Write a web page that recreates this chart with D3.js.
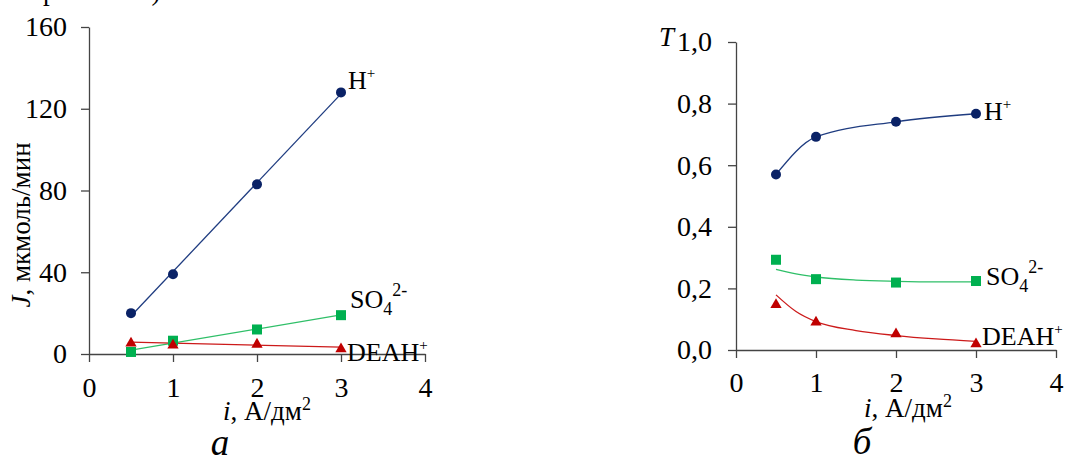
<!DOCTYPE html>
<html>
<head>
<meta charset="utf-8">
<script src="https://cdn.jsdelivr.net/npm/d3@7"></script>
<style>
  body { margin: 0; background: #fff; }
  svg { display: block; font-family: "Liberation Serif", "Times New Roman", serif; }
</style>
</head>
<body>
<svg id="chart" width="1065" height="462"></svg>
<script>
// current density, A/dm2
const currents = [0.5, 1, 2, 3]
// panel a: fluxes J, umol/min
const fluxH = [20, 39, 83, 128]
const fluxSO4 = [1, 6.5, 12, 19]
const fluxDEAH = [5.8, 4.8, 5.2, 2.9]
// panel b: transport numbers T
const transH = [0.57, 0.692, 0.741, 0.767]
const transSO4 = [0.293, 0.23, 0.219, 0.224]
const transDEAH = [0.15, 0.093, 0.055, 0.023]
// trend curves in panel b
const trendX = [0.5, 0.75, 1, 1.5, 2, 2.5, 3]
const trendSO4 = [0.262, 0.247, 0.237, 0.227, 0.223, 0.221, 0.221]
const trendDEAH = [0.179, 0.125, 0.092, 0.063, 0.047, 0.036, 0.028]

const xTicks = [0, 1, 2, 3, 4]
const yTicksA = [0, 40, 80, 120, 160]
const yTicksB = [0, 0.2, 0.4, 0.6, 0.8, 1.0]

const C_H = "#0a2266", L_H = "#1f3c80"
const C_SO4 = "#00b050", L_SO4 = "#2fbf68"
const C_DEAH = "#c00000", L_DEAH = "#cc1a1a"
const AXIS = "#444"

const svg = d3.select("#chart")

// bit of the previous text line, cut at the top
svg.append("text").attr("x", 43).attr("y", 0)
  .style("font-size", "27px").text("рис. 1 и 2)")

function linFit(xs, ys) {
  const mx = d3.mean(xs), my = d3.mean(ys)
  const b = d3.sum(xs, (x, i) => (x - mx) * (ys[i] - my)) / d3.sum(xs, x => (x - mx) ** 2)
  return x => my + b * (x - mx)
}

function drawAxes(g, x, y, yTicks, fmt, yPad, xPad) {
  g.append("g")
    .attr("transform", `translate(0,${y(0)})`)
    .call(d3.axisBottom(x).tickValues(xTicks).tickFormat(d3.format("d"))
      .tickSize(8).tickSizeOuter(0).tickPadding(xPad))
  g.append("g")
    .attr("transform", `translate(${x(0)},0)`)
    .call(d3.axisLeft(y).tickValues(yTicks).tickFormat(fmt).tickSize(8).tickSizeOuter(0).tickPadding(yPad))
  g.selectAll(".domain, .tick line").attr("stroke", AXIS).attr("stroke-width", 1.3)
  g.selectAll(".tick text")
    .attr("fill", "#000")
    .style("font-family", "Liberation Serif")
    .style("font-size", "28px")
}

function markers(g, x, y, xs, ys, kind, color) {
  if (kind === "circle") {
    g.selectAll(null).data(xs).join("circle")
      .attr("cx", d => x(d)).attr("cy", (d, i) => y(ys[i])).attr("r", 5).attr("fill", color)
  } else if (kind === "square") {
    g.selectAll(null).data(xs).join("rect")
      .attr("x", d => x(d) - 5).attr("y", (d, i) => y(ys[i]) - 5)
      .attr("width", 10).attr("height", 10).attr("fill", color)
  } else {
    const tri = d3.symbol(d3.symbolTriangle, 55)
    g.selectAll(null).data(xs).join("path")
      .attr("transform", (d, i) => `translate(${x(d)},${y(ys[i]) + 1})`)
      .attr("d", tri).attr("fill", color)
  }
}

function ionLabel(g, px, py, main, sub, sup) {
  const t = g.append("text").attr("x", px).attr("y", py).style("font-size", "26px")
  t.append("tspan").text(main)
  if (sub) t.append("tspan").attr("dy", 7).style("font-size", "18px").text(sub)
  if (sup) t.append("tspan").attr("dy", sub ? -19 : -11).style("font-size", sub ? "18px" : "15px").text(sup)
}

function xTitle(g, cx, by) {
  const t = g.append("text").attr("x", cx).attr("y", by).attr("text-anchor", "middle").style("font-size", "27px")
  t.append("tspan").style("font-style", "italic").text("i")
  t.append("tspan").text(", А/дм")
  t.append("tspan").attr("dy", -10).style("font-size", "18px").text("2")
}

// ---------- panel a ----------
const ga = svg.append("g")
const xa = d3.scaleLinear().domain([0, 4]).range([89, 425])
const ya = d3.scaleLinear().domain([0, 160]).range([354, 27])
drawAxes(ga, xa, ya, yTicksA, d3.format("d"), 14, 15)

const lineA = d3.line().x(d => xa(d[0])).y(d => ya(d[1]))
;[[fluxH, L_H], [fluxSO4, L_SO4], [fluxDEAH, L_DEAH]].forEach(([ys, col]) => {
  const f = linFit(currents, ys)
  ga.append("path")
    .attr("d", lineA([[0.5, f(0.5)], [3, f(3)]]))
    .attr("fill", "none").attr("stroke", col).attr("stroke-width", 1.3)
})
markers(ga, xa, ya, currents, fluxH, "circle", C_H)
markers(ga, xa, ya, currents, fluxSO4, "square", C_SO4)
markers(ga, xa, ya, currents, fluxDEAH, "triangle", C_DEAH)

ionLabel(ga, 348, 89, "H", null, "+")
ionLabel(ga, 350, 308, "SO", "4", "2-")
ionLabel(ga, 347, 361, "DEAH", null, "+")

ga.append("text")
  .attr("transform", "translate(30,225) rotate(-90)")
  .attr("text-anchor", "middle").style("font-size", "27px")
  .call(t => {
    t.append("tspan").style("font-style", "italic").text("J")
    t.append("tspan").text(", мкмоль/мин")
  })
xTitle(ga, 267, 420)
ga.append("text").attr("x", 220).attr("y", 455).attr("text-anchor", "middle")
  .style("font-size", "37px").style("font-style", "italic").text("а")

// ---------- panel b ----------
const gb = svg.append("g")
const xb = d3.scaleLinear().domain([0, 4]).range([736, 1056])
const yb = d3.scaleLinear().domain([0, 1]).range([350, 42])
drawAxes(gb, xb, yb, yTicksB, d => d3.format(".1f")(d).replace(".", ","), 16, 14)

const smooth = d3.line().x(d => xb(d[0])).y(d => yb(d[1])).curve(d3.curveMonotoneX)
gb.append("path").attr("d", smooth(currents.map((c, i) => [c, transH[i]])))
  .attr("fill", "none").attr("stroke", L_H).attr("stroke-width", 1.3)
gb.append("path").attr("d", smooth(trendX.map((c, i) => [c, trendSO4[i]])))
  .attr("fill", "none").attr("stroke", L_SO4).attr("stroke-width", 1.3)
gb.append("path").attr("d", smooth(trendX.map((c, i) => [c, trendDEAH[i]])))
  .attr("fill", "none").attr("stroke", L_DEAH).attr("stroke-width", 1.3)
markers(gb, xb, yb, currents, transH, "circle", C_H)
markers(gb, xb, yb, currents, transSO4, "square", C_SO4)
markers(gb, xb, yb, currents, transDEAH, "triangle", C_DEAH)

ionLabel(gb, 984, 120, "H", null, "+")
ionLabel(gb, 986, 285, "SO", "4", "2-")
ionLabel(gb, 982, 345, "DEAH", null, "+")

gb.append("text").attr("x", 659).attr("y", 46)
  .style("font-size", "27px").style("font-style", "italic").text("T")
xTitle(gb, 908, 417)
gb.append("text").attr("x", 862).attr("y", 454).attr("text-anchor", "middle")
  .style("font-size", "37px").style("font-style", "italic").text("б")
</script>
</body>
</html>
